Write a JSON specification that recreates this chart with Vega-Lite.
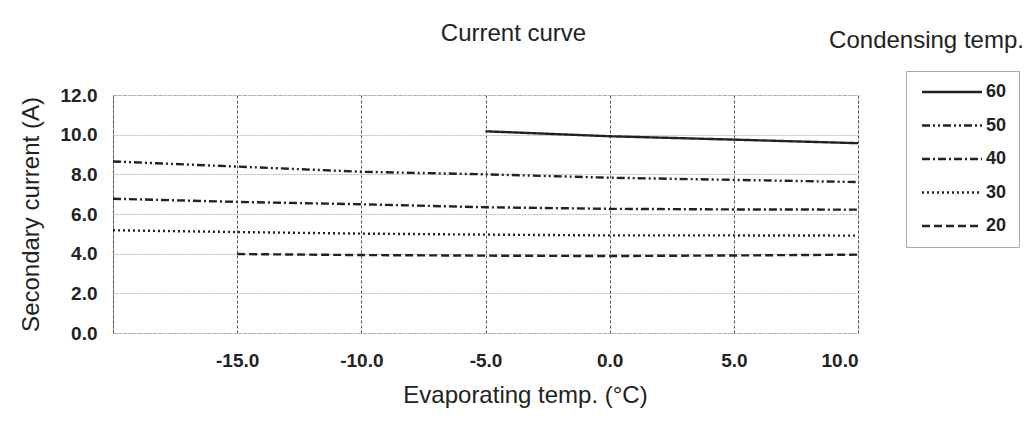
{
  "$schema": "https://vega.github.io/schema/vega-lite/v6.json",
  "autosize": {"type": "none"},
  "padding": {"left": 113, "top": 95, "right": 172, "bottom": 99},
  "width": 745,
  "height": 238,
  "background": "white",
  "title": {"text": "Current curve", "anchor": "middle", "dx": 28, "offset": -18, "fontSize": 24, "fontWeight": "normal", "font": "Liberation Sans", "color": "#222"},
  "config": {
    "view": {"stroke": "#999", "strokeDash": [3, 2], "strokeWidth": 1},
    "font": "Liberation Sans"
  },
  "data": {
    "values": [
      {"evap": -5, "current": 10.17, "cond": "60"},
      {"evap": 0, "current": 9.92, "cond": "60"},
      {"evap": 5, "current": 9.75, "cond": "60"},
      {"evap": 10, "current": 9.57, "cond": "60"},
      {"evap": -20, "current": 8.65, "cond": "50"},
      {"evap": -15, "current": 8.39, "cond": "50"},
      {"evap": -10, "current": 8.13, "cond": "50"},
      {"evap": -5, "current": 8.0, "cond": "50"},
      {"evap": 0, "current": 7.83, "cond": "50"},
      {"evap": 5, "current": 7.72, "cond": "50"},
      {"evap": 10, "current": 7.61, "cond": "50"},
      {"evap": -20, "current": 6.77, "cond": "40"},
      {"evap": -15, "current": 6.61, "cond": "40"},
      {"evap": -10, "current": 6.49, "cond": "40"},
      {"evap": -5, "current": 6.34, "cond": "40"},
      {"evap": 0, "current": 6.26, "cond": "40"},
      {"evap": 5, "current": 6.23, "cond": "40"},
      {"evap": 10, "current": 6.22, "cond": "40"},
      {"evap": -20, "current": 5.18, "cond": "30"},
      {"evap": -15, "current": 5.09, "cond": "30"},
      {"evap": -10, "current": 5.01, "cond": "30"},
      {"evap": -5, "current": 4.96, "cond": "30"},
      {"evap": 0, "current": 4.92, "cond": "30"},
      {"evap": 5, "current": 4.92, "cond": "30"},
      {"evap": 10, "current": 4.91, "cond": "30"},
      {"evap": -15, "current": 3.98, "cond": "20"},
      {"evap": -10, "current": 3.93, "cond": "20"},
      {"evap": -5, "current": 3.9, "cond": "20"},
      {"evap": 0, "current": 3.88, "cond": "20"},
      {"evap": 5, "current": 3.91, "cond": "20"},
      {"evap": 10, "current": 3.95, "cond": "20"}
    ]
  },
  "resolve": {"axis": {"x": "independent", "y": "independent"}},
  "layer": [
    {
      "mark": {"type": "line", "color": "#222", "strokeWidth": 2.4},
      "encoding": {
        "x": {
          "field": "evap", "type": "quantitative",
          "scale": {"domain": [-20, 10], "nice": false, "zero": false},
          "axis": {
            "values": [-20, -15, -10, -5, 0, 5, 10],
            "format": ".1f",
            "labelExpr": "datum.value == -20 ? '' : replace(datum.label, '−', '-')",
            "labelOverlap": false,
            "title": "Evaporating temp. (°C)",
            "titleX": 412, "titleY": 62, "titleAlign": "center", "titleBaseline": "middle",
            "titleFontSize": 24, "titleFontWeight": "normal", "titleColor": "#222",
            "labelFontSize": 19, "labelFontWeight": "bold", "labelColor": "#222", "labelPadding": 18,
            "domain": false, "ticks": false,
            "grid": true, "gridColor": "#555", "gridDash": [3, 2], "gridWidth": 1
          }
        },
        "y": {
          "field": "current", "type": "quantitative",
          "scale": {"domain": [0, 12], "nice": false},
          "axis": {
            "values": [0, 2, 4, 6, 8, 10, 12],
            "format": ".1f",
            "labelOverlap": false,
            "title": "Secondary current (A)",
            "titleX": -82, "titleY": 119, "titleAngle": -90, "titleAlign": "center", "titleBaseline": "middle",
            "titleFontSize": 24, "titleFontWeight": "normal", "titleColor": "#222",
            "labelFontSize": 19, "labelFontWeight": "bold", "labelColor": "#222", "labelPadding": 16,
            "domain": false, "ticks": false,
            "grid": true, "gridColor": "#bbb", "gridWidth": 1, "gridDash": [2, 1]
          }
        },
        "strokeDash": {
          "field": "cond", "type": "nominal",
          "scale": {
            "domain": ["60", "50", "40", "30", "20"],
            "range": [[1, 0], [8, 3, 2, 3, 2, 3], [8, 3, 2, 3], [2, 3], [8, 4]]
          },
          "legend": {
            "title": null,
            "orient": "none",
            "legendX": 793,
            "legendY": -24,
            "padding": 12,
            "strokeColor": "#aaa",
            "symbolType": "M-1,0H11",
            "symbolSize": 100,
            "symbolStrokeWidth": 2.4,
            "symbolStrokeColor": "#222",
            "symbolFillColor": "transparent",
            "labelFontSize": 18,
            "labelFontWeight": "bold",
            "labelColor": "#222",
            "labelOffset": 50,
            "rowPadding": 15.5
          }
        }
      }
    },
    {
      "mark": {"type": "line", "strokeOpacity": 0},
      "encoding": {
        "x": {
          "field": "evap", "type": "quantitative",
          "axis": {
            "orient": "top",
            "title": "Condensing temp.",
            "titleX": 813, "titleY": -55, "titleAngle": 0, "titleAlign": "center", "titleBaseline": "middle",
            "titleFontSize": 24, "titleFontWeight": "normal", "titleColor": "#222",
            "labels": false, "ticks": false, "domain": false, "grid": false
          }
        },
        "y": {"field": "current", "type": "quantitative", "axis": null},
        "detail": {"field": "cond"}
      }
    }
  ]
}
